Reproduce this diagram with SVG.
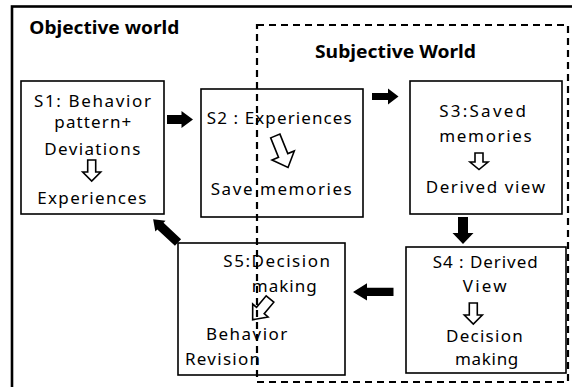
<svg xmlns="http://www.w3.org/2000/svg" xmlns:xlink="http://www.w3.org/1999/xlink" width="572" height="387" viewBox="0 0 572 387">
<style>
.box{fill:#fff;stroke:#000;stroke-width:1.6}
.t{font-family:"Noto Sans","Open Sans","Liberation Sans",sans-serif;font-size:17px;fill:#000}
.h{font-family:"Noto Sans","Open Sans","Liberation Sans",sans-serif;font-size:18px;font-weight:bold;fill:#000}
.ha{fill:#fff;stroke:#000;stroke-width:1.6;stroke-linejoin:miter}
.ba{fill:#000;stroke:none}
</style>
<defs>
<path id="hollow" d="M-4,0 H4 V12 H9 L0,21 L-9,12 H-4 Z"/>
</defs>
<rect x="0" y="0" width="572" height="387" fill="#fff"/>
<g id="objective-world">
<rect x="12" y="6.5" width="600" height="420" fill="none" stroke="#000" stroke-width="2.6"/>
<text class="h" x="29.3" y="34" textLength="150" lengthAdjust="spacingAndGlyphs">Objective world</text>
</g>
<g id="s1">
<rect class="box" x="21" y="81" width="143" height="133"/>
<text class="t" x="34" y="107" textLength="117" lengthAdjust="spacing">S1: Behavior</text>
<text class="t" x="54.3" y="128" textLength="77" lengthAdjust="spacing">pattern+</text>
<text class="t" x="44.3" y="155" textLength="96" lengthAdjust="spacing">Deviations</text>
<use xlink:href="#hollow" class="ha" transform="translate(91.7,160)"/>
<text class="t" x="37.3" y="204" textLength="109" lengthAdjust="spacing">Experiences</text>
</g>
<g id="s2">
<rect class="box" x="201" y="89" width="162" height="128"/>
<text class="t" x="206.7" y="123.5" textLength="145" lengthAdjust="spacing">S2 : Experiences</text>
<path class="ha" transform="translate(275.3,136) rotate(-22)" d="M-5,0 H5 V21 H12 L0,34 L-12,21 H-5 Z"/>
<text class="t" x="210.7" y="195" textLength="141" lengthAdjust="spacing">Save memories</text>
</g>
<g id="s3">
<rect class="box" x="410" y="81" width="152" height="133"/>
<text class="t" x="439.3" y="117.3" textLength="86.7" lengthAdjust="spacing">S3:Saved</text>
<text class="t" x="439.3" y="141.7" textLength="92.4" lengthAdjust="spacing">memories</text>
<path class="ha" transform="translate(479,153)" d="M-4,0 H4 V9 H9 L0,16.5 L-9,9 H-4 Z"/>
<text class="t" x="425.7" y="192.7" textLength="119.3" lengthAdjust="spacing">Derived view</text>
</g>
<g id="s4">
<rect class="box" x="406" y="247" width="160" height="126"/>
<text class="t" x="432.7" y="268.3" textLength="105" lengthAdjust="spacing">S4 : Derived</text>
<text class="t" x="462.7" y="291.7" textLength="44" lengthAdjust="spacing">View</text>
<use xlink:href="#hollow" class="ha" transform="translate(473.3,303)"/>
<text class="t" x="446" y="341.7" textLength="76.7" lengthAdjust="spacing">Decision</text>
<text class="t" x="455" y="365" textLength="63.3" lengthAdjust="spacing">making</text>
</g>
<g id="s5">
<rect class="box" x="178" y="243" width="167" height="132"/>
<text class="t" x="223.3" y="266.7" textLength="106.7" lengthAdjust="spacing">S5:Decision</text>
<text class="t" x="251.7" y="291.7" textLength="65" lengthAdjust="spacing">making</text>
<path class="ha" transform="translate(270,299) rotate(40)" d="M-5,0 H5 V15 H10 L0,27 L-10,15 H-5 Z"/>
<text class="t" x="206" y="340" textLength="81.3" lengthAdjust="spacing">Behavior</text>
<text class="t" x="185" y="365" textLength="75" lengthAdjust="spacing">Revision</text>
</g>
<g id="connectors">
<path class="ba" d="M167,115 H181.5 V111 L193,119.5 L181.5,128 V124 H167 Z"/>
<path class="ba" d="M372,93 H388 V88.5 L398.5,96.5 L388,104.5 V100 H372 Z"/>
<path class="ba" d="M458,217 H468 V233 H473.5 L463,244 L452.5,233 H458 Z"/>
<path class="ba" d="M393.5,287.8 V296 H367 V300.5 L353,292 L367,283.3 V287.8 Z"/>
<path class="ba" transform="translate(178,242.5) rotate(-137)" d="M0,-4.5 H24 V-7.5 L34,0 L24,7.5 V4.5 H0 Z"/>
</g>
<g id="subjective-world">
<rect x="257" y="25" width="311" height="357" fill="none" stroke="#000" stroke-width="2.2" stroke-dasharray="7 5"/>
<text class="h" x="315" y="58.3" textLength="161" lengthAdjust="spacingAndGlyphs">Subjective World</text>
</g>
</svg>
